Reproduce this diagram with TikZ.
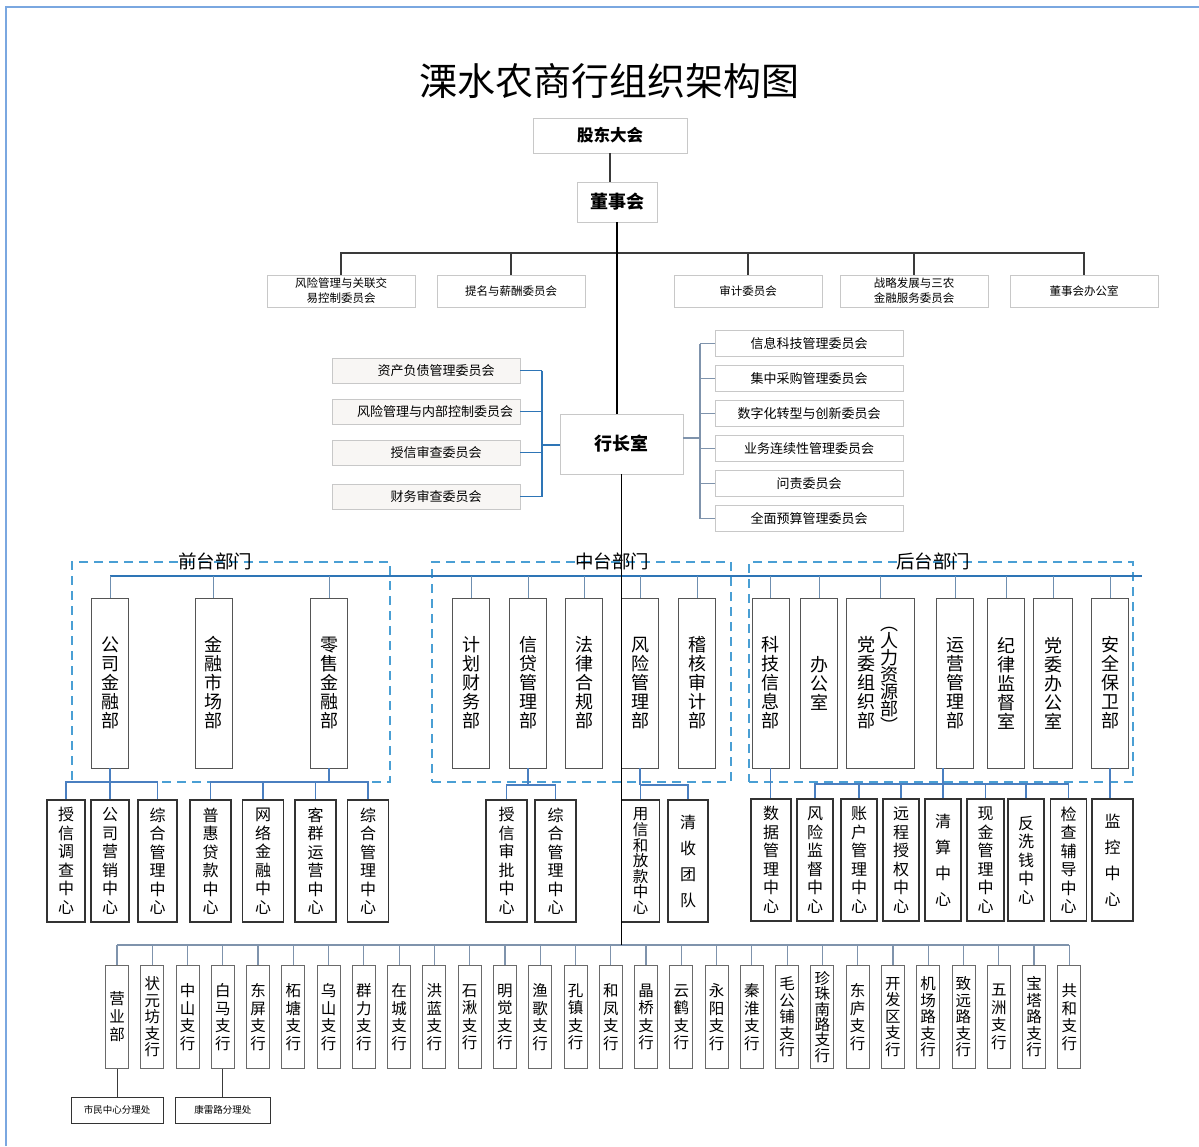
\documentclass[tikz,border=0pt]{standalone}
\usepackage{fontspec}
\setmainfont{Noto Sans CJK SC}
\usetikzlibrary{calc}
\definecolor{boxgray}{HTML}{C8C8C8}
\definecolor{lfill}{HTML}{F8F6F4}
\definecolor{deptgray}{HTML}{555555}
\definecolor{subgray}{HTML}{333333}
\definecolor{brgray}{HTML}{6A6A6A}
\definecolor{dashblue}{HTML}{4A9FD4}
\definecolor{darkline}{HTML}{3A3A3A}
\definecolor{blueline}{HTML}{2E75B6}
\definecolor{greyblue}{HTML}{7F93AC}
\definecolor{subblue}{HTML}{4A7FC0}
\definecolor{dropblue}{HTML}{6F8FB0}
\definecolor{framecol}{HTML}{7AA7E0}
\begin{document}
\lineskiplimit=-50pt
\begin{tikzpicture}[x=1pt,y=-1pt,
  topbox/.style={draw=boxgray, fill=white, line width=0.8pt, inner sep=0pt, align=center},
  comm/.style={topbox, minimum width=148, minimum height=32, font=\fontsize{11.5}{15}\selectfont},
  lcomm/.style={topbox, fill=lfill, minimum width=188, minimum height=25, font=\fontsize{13}{15}\selectfont},
  rcomm/.style={topbox, minimum width=188, minimum height=26, font=\fontsize{13}{15}\selectfont},
  dept/.style={draw=deptgray, fill=white, line width=0.8pt, minimum width=37, minimum height=170, inner sep=0pt, align=center, font=\fontsize{18}{19}\selectfont},
  dtext/.style={inner sep=0pt, align=center, font=\fontsize{18}{19}\selectfont},
  subbox/.style={draw=subgray, fill=white, line width=1.3pt, minimum height=122, inner sep=0pt, align=center, font=\fontsize{16}{18.5}\selectfont},
  subwide/.style={subbox, font=\fontsize{16}{26}\selectfont},
  branch/.style={draw=brgray, fill=white, line width=0.9pt, minimum width=23, minimum height=103, inner sep=0pt, align=center},
  office/.style={draw=subgray, fill=white, line width=0.9pt, minimum height=26, inner sep=0pt, font=\fontsize{9.5}{11}\selectfont},
  grp/.style={draw=dashblue, dash pattern=on 9pt off 6pt, line width=1.3pt, inner sep=0pt},
  grplabel/.style={font=\fontsize{18.5}{20}\selectfont, inner sep=0pt},
  board/.style={draw=darkline, line width=1.3pt},
  trunk/.style={draw=black, line width=1.3pt},
  bln/.style={draw=blueline, line width=1.5pt},
  gbln/.style={draw=greyblue, line width=1.3pt},
  drop/.style={draw=dropblue, line width=1pt},
  sbln/.style={draw=subblue, line width=1.2pt},
  brln/.style={draw=greyblue, line width=1.2pt}
]
\useasboundingbox (0,0) rectangle (1199,1146);
\draw[draw=framecol, line width=1.5pt] (6,1146) -- (6,7) -- (1199,7);

% title and top
\node[font=\fontsize{38}{42}\selectfont, inner sep=0pt] (title) at (609,81) {溧水农商行组织架构图};
\node[topbox, minimum width=154, minimum height=35, font=\bfseries\fontsize{16.5}{19}\selectfont] (gd) at (610,135.5) {股东大会};
\node[topbox, minimum width=80, minimum height=40, font=\bfseries\fontsize{18}{20}\selectfont] (dsh) at (617,202) {董事会};

% board committees
\node[comm] (c1) at (341,291) {风险管理与关联交\\易控制委员会};
\node[comm] (c2) at (511,291) {提名与薪酬委员会};
\node[comm] (c3) at (748,291) {审计委员会};
\node[comm] (c4) at (914,291) {战略发展与三农\\金融服务委员会};
\node[comm] (c5) at (1084,291) {董事会办公室};

% president office
\node[topbox, minimum width=123, minimum height=60, font=\bfseries\fontsize{18}{20}\selectfont] (hz) at (621.5,444) {行长室};

% left committees
\node[lcomm] (lc1) at (426,370.5) {\hspace*{20pt}资产负债管理委员会};
\node[lcomm] (lc2) at (426,411.5) {\hspace*{18pt}风险管理与内部控制委员会};
\node[lcomm] (lc3) at (426,452.5) {\hspace*{20pt}授信审查委员会};
\node[lcomm] (lc4) at (426,496.5) {\hspace*{20pt}财务审查委员会};
\coordinate (lj) at (542,445);

% right committees
\node[rcomm] (rc1) at (809,343.5) {信息科技管理委员会};
\node[rcomm] (rc2) at (809,378.5) {集中采购管理委员会};
\node[rcomm] (rc3) at (809,413.5) {数字化转型与创新委员会};
\node[rcomm] (rc4) at (809,448.5) {业务连续性管理委员会};
\node[rcomm] (rc5) at (809,483.5) {问责委员会};
\node[rcomm] (rc6) at (809,518.5) {全面预算管理委员会};
\coordinate (rj) at (700,438);

% groups
\node[grp, minimum width=318, minimum height=220] (gF) at (231,672) {};
\node[grp, minimum width=299, minimum height=220] (gM) at (581.5,672) {};
\node[grp, minimum width=384, minimum height=220] (gB) at (941,672) {};
\node[grplabel] (gFl) at (215,561) {前台部门};
\node[grplabel] (gMl) at (612,561) {中台部门};
\node[grplabel] (gBl) at (933,561) {后台部门};
\coordinate (db) at (1142,576);

% departments
\node[dept] (d1) at (110,683) {公\\司\\金\\融\\部};
\node[dept] (d2) at (213.5,683) {金\\融\\市\\场\\部};
\node[dept] (d3) at (329,683) {零\\售\\金\\融\\部};
\node[dept] (d4) at (471,683) {计\\划\\财\\务\\部};
\node[dept] (d5) at (528,683) {信\\贷\\管\\理\\部};
\node[dept] (d6) at (584,683) {法\\律\\合\\规\\部};
\node[dept] (d7) at (640,683) {风\\险\\管\\理\\部};
\node[dept] (d8) at (697,683) {稽\\核\\审\\计\\部};
\node[dept] (d9) at (770.5,683) {科\\技\\信\\息\\部};
\node[dept] (d10) at (819,683) {办\\公\\室};
\node[dept, minimum width=68] (d11) at (880,683) {};
\node[dtext] (d11a) at (866,683) {党\\委\\组\\织\\部};
\node[dtext, font=\fontsize{18}{17}\selectfont] (d11b) at (889,680) {︵\\人\\力\\资\\源\\部\\︶};
\node[dept] (d12) at (955,683) {运\\营\\管\\理\\部};
\node[dept] (d13) at (1006,683) {纪\\律\\监\\督\\室};
\node[dept, minimum width=39] (d14) at (1053,683) {党\\委\\办\\公\\室};
\node[dept] (d15) at (1110,683) {安\\全\\保\\卫\\部};

% sub centers
\node[subbox, minimum width=38] (s1) at (66,861) {授\\信\\调\\查\\中\\心};
\node[subbox, minimum width=38] (s2) at (110,861) {公\\司\\营\\销\\中\\心};
\node[subbox, minimum width=39] (s3) at (157.5,861) {综\\合\\管\\理\\中\\心};
\node[subbox, minimum width=41] (s4) at (210.5,861) {普\\惠\\贷\\款\\中\\心};
\node[subbox, minimum width=41] (s5) at (263,861) {网\\络\\金\\融\\中\\心};
\node[subbox, minimum width=41] (s6) at (315.5,861) {客\\群\\运\\营\\中\\心};
\node[subbox, minimum width=41] (s7) at (368,861) {综\\合\\管\\理\\中\\心};
\node[subbox, minimum width=41] (s8) at (506.5,861) {授\\信\\审\\批\\中\\心};
\node[subbox, minimum width=41] (s9) at (555.5,861) {综\\合\\管\\理\\中\\心};
\node[subbox, minimum width=38, font=\fontsize{15.5}{15.5}\selectfont] (s10) at (640.5,861) {用\\信\\和\\放\\款\\中\\心};
\node[subwide, minimum width=40] (s11) at (688,861) {清\\收\\团\\队};
\node[subbox, minimum width=40] (s12) at (771,860) {数\\据\\管\\理\\中\\心};
\node[subbox, minimum width=36] (s13) at (815,860) {风\\险\\监\\督\\中\\心};
\node[subbox, minimum width=36] (s14) at (859,860) {账\\户\\管\\理\\中\\心};
\node[subbox, minimum width=36] (s15) at (901,860) {远\\程\\授\\权\\中\\心};
\node[subwide, minimum width=36] (s16) at (943,860) {清\\算\\中\\心};
\node[subbox, minimum width=37] (s17) at (985.5,860) {现\\金\\管\\理\\中\\心};
\node[subbox, minimum width=36] (s18) at (1026,860) {反\\洗\\钱\\中\\心};
\node[subbox, minimum width=36] (s19) at (1068.5,860) {检\\查\\辅\\导\\中\\心};
\node[subwide, minimum width=41] (s20) at (1112.5,860) {监\\控\\中\\心};

% branches
\coordinate (bb2) at (622,945);
\foreach \n/\t/\s in {1/{营\\业\\部}/18, 2/{状\\元\\坊\\支\\行}/16.5, 3/{中\\山\\支\\行}/17.5, 4/{白\\马\\支\\行}/17.5,
  5/{东\\屏\\支\\行}/17.5, 6/{柘\\塘\\支\\行}/17.5, 7/{乌\\山\\支\\行}/17.5, 8/{群\\力\\支\\行}/17.5,
  9/{在\\城\\支\\行}/17.5, 10/{洪\\蓝\\支\\行}/17.5, 11/{石\\湫\\支\\行}/17.5, 12/{明\\觉\\支\\行}/17.5,
  13/{渔\\歌\\支\\行}/17.5, 14/{孔\\镇\\支\\行}/17.5, 15/{和\\凤\\支\\行}/17.5, 16/{晶\\桥\\支\\行}/17.5,
  17/{云\\鹤\\支\\行}/17.5, 18/{永\\阳\\支\\行}/17.5, 19/{秦\\淮\\支\\行}/17.5, 20/{毛\\公\\铺\\支\\行}/16.5,
  21/{珍\\珠\\南\\路\\支\\行}/15.3, 22/{东\\庐\\支\\行}/17.5, 23/{开\\发\\区\\支\\行}/16.5, 24/{机\\场\\路\\支\\行}/16.5,
  25/{致\\远\\路\\支\\行}/16.5, 26/{五\\洲\\支\\行}/17.5, 27/{宝\\塔\\路\\支\\行}/16.5, 28/{共\\和\\支\\行}/17.5}
{
  \node[branch, font=\fontsize{15.5}{\s}\selectfont] (b\n) at ({117+35.27*(\n-1)},1017) {\t};
  \draw[brln] (b\n.north) -- (b\n.north |- bb2);
}
\node[office, minimum width=92] (o1) at (117,1110) {市民中心分理处};
\node[office, minimum width=95] (o2) at (222.8,1110) {康雷路分理处};

% ---- connectors ----
\draw[board] (gd.south) -- (gd.south |- dsh.north);
\coordinate (bb) at (617,253);
\draw[board] (c1.north) -- (c1.north |- bb) -- (c5.north |- bb) -- (c5.north);
\draw[board] (c2.north) -- (c2.north |- bb);
\draw[board] (c3.north) -- (c3.north |- bb);
\draw[board] (c4.north) -- (c4.north |- bb);
\draw[trunk] (dsh.south) -- (dsh.south |- hz.north);

% left committees
\foreach \i in {1,2,3,4} { \draw[bln] (lc\i.east) -- (lc\i.east -| lj); }
\draw[bln] (lc1.east -| lj) -- (lc4.east -| lj);
\draw[bln] (hz.west |- lj) -- (lj);

% right committees
\foreach \i in {1,...,6} { \draw[gbln] (rc\i.west) -- (rc\i.west -| rj); }
\draw[gbln] (rc1.west -| rj) -- (rc6.west -| rj);
\draw[gbln] (hz.east |- rj) -- (rj);

% department bus
\draw[bln] (d1.north |- db) -- (db);
\foreach \i in {1,...,15} { \draw[drop] (d\i.north) -- (d\i.north |- db); }

% sub center buses
\coordinate (sa) at (0,782);
\coordinate (sc) at (0,785);
\coordinate (se) at (0,784);
\draw[sbln] (s1.north) -- (s1.north |- sa) -- (s3.north |- sa) -- (s3.north);
\draw[sbln] (d1.south) -- (s2.north);
\draw[sbln] (s4.north) -- (s4.north |- sa) -- (s7.north |- sa) -- (s7.north);
\draw[sbln] (s5.north) -- (s5.north |- sa);
\draw[sbln] (s6.north) -- (s6.north |- sa);
\draw[sbln] (d3.south) -- (d3.south |- sa);
\draw[sbln] (s8.north) -- (s8.north |- sc) -- (s9.north |- sc) -- (s9.north);
\draw[sbln] (d5.south) -- (d5.south |- sc);
\draw[sbln] (s10.north) -- (s10.north |- sc) -- (s11.north |- sc) -- (s11.north);
\draw[sbln] (d7.south) -- (d7.south |- sc);
\draw[sbln] (d9.south) -- (d9.south |- s12.north);
\draw[sbln] (s13.north) -- (s13.north |- se) -- (s19.north |- se) -- (s19.north);
\foreach \i in {14,15,17,18} { \draw[sbln] (s\i.north) -- (s\i.north |- se); }
\draw[sbln] (s16.north |- d12.south) -- (s16.north);
\draw[sbln] (d15.south) -- (d15.south |- s20.north);

% branches
\draw[brln] (b1.north |- bb2) -- (b28.north |- bb2);
\draw[trunk] (hz.south) -- (hz.south |- bb2);
\draw[darkline, line width=1pt] (b1.south) -- (b1.south |- o1.north);
\draw[darkline, line width=1pt] (b4.south) -- (b4.south |- o2.north);
\end{tikzpicture}
\end{document}
